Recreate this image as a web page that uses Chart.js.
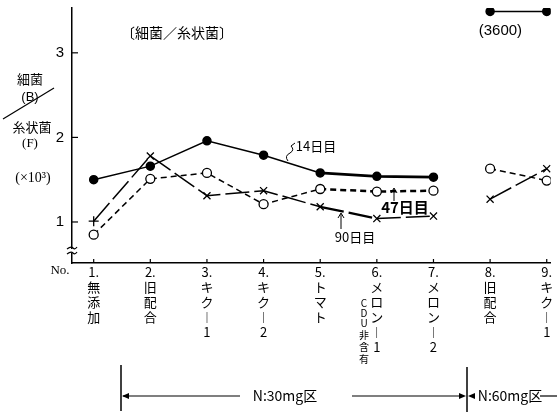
<!DOCTYPE html>
<html><head><meta charset="utf-8">
<script src="https://cdn.jsdelivr.net/npm/chart.js@4/dist/chart.umd.min.js"></script>
<style>html,body{margin:0;padding:0;background:#fff}#wrap{width:557px;height:416px}</style>
</head><body><div id="wrap"><canvas id="c" width="557" height="416"></canvas></div>
<script>
// ---- data ----
const sampleNos = [1, 2, 3, 4, 5, 6, 7, 8, 9];
const tickLabels = [
  ["1.", "無", "添", "加"],
  ["2.", "旧", "配", "合"],
  ["3.", "キ", "ク", "︱", "1"],
  ["4.", "キ", "ク", "︱", "2"],
  ["5.", "ト", "マ", "ト"],
  ["6.", "メ", "ロ", "ン", "︱", "1"],
  ["7.", "メ", "ロ", "ン", "︱", "2"],
  ["8.", "旧", "配", "合"],
  ["9.", "キ", "ク", "︱", "1"]
];
const seriesNames = ["14日目", "47日目", "90日目"];
const day14 = [1.50, 1.66, 1.96, 1.79, 1.58, 1.54, 1.53, 3.49, 3.49];
const day47 = [0.85, 1.51, 1.58, 1.21, 1.39, 1.36, 1.37, 1.63, 1.49];
const day90 = [1.01, 1.78, 1.31, 1.37, 1.18, 1.04, 1.07, 1.27, 1.63];
const yTickValues = [1, 2, 3];
const offScaleLabel = "(3600)";
const groupBreakIndex = 6; // no line between No.7 and No.8

const JP = "'Noto Sans CJK JP', sans-serif";
const SERIF = "'Liberation Serif', serif";
const SANS = "'Liberation Sans', sans-serif";

const pts = arr => arr.map((v, i) => ({ x: sampleNos[i], y: v }));
const segColor = c => ctx => ctx.p0DataIndex === groupBreakIndex ? 'rgba(0,0,0,0)' : c;

const annot = {
  id: 'annot',
  afterDraw(chart) {
    const { ctx, chartArea: a, scales: { x, y } } = chart;
    ctx.save();
    ctx.strokeStyle = '#000'; ctx.fillStyle = '#000'; ctx.lineWidth = 1.2;
    const line = (x1, y1, x2, y2, w) => { ctx.lineWidth = w || 1.2; ctx.beginPath(); ctx.moveTo(x1, y1); ctx.lineTo(x2, y2); ctx.stroke(); };
    const txt = (s, px, py, font, align) => { ctx.font = font; ctx.textAlign = align || 'center'; ctx.textBaseline = 'middle'; ctx.fillText(s, px, py); };
    const head = (px, py, dir) => {
      ctx.beginPath();
      if (dir === 'l') { ctx.moveTo(px, py); ctx.lineTo(px + 7, py - 3); ctx.lineTo(px + 7, py + 3); }
      if (dir === 'r') { ctx.moveTo(px, py); ctx.lineTo(px - 7, py - 3); ctx.lineTo(px - 7, py + 3); }
      if (dir === 'u') { ctx.moveTo(px - 3, py + 5); ctx.lineTo(px, py); ctx.lineTo(px + 3, py + 5); ctx.lineWidth = 1; ctx.stroke(); return; }
      ctx.closePath(); ctx.fill();
    };
    // inner tick marks
    yTickValues.forEach(v => { const py = y.getPixelForValue(v); line(a.left, py, a.left + 6, py, 1.2); });
    sampleNos.forEach(v => { const px = x.getPixelForValue(v); line(px, a.bottom, px, a.bottom - 4, 1.2); });
    // axis break
    ctx.fillStyle = '#fff'; ctx.fillRect(a.left - 3, 249, 6, 4); ctx.fillStyle = '#000';
    ctx.lineWidth = 1.2;
    [248, 253].forEach(yy => { ctx.beginPath(); ctx.moveTo(a.left - 5, yy + 1); ctx.quadraticCurveTo(a.left - 1, yy - 2, a.left + 1, yy); ctx.quadraticCurveTo(a.left + 3, yy + 2, a.left + 5, yy - 1); ctx.stroke(); });
    // left labels
    txt('細菌', 30, 79, '13px ' + JP);
    txt('(B)', 30, 97, '13px ' + SANS);
    line(3, 119, 54, 88, 1.2);
    txt('糸状菌', 32, 127, '13px ' + JP);
    txt('(F)', 30, 144, '13px ' + SERIF);
    txt('(×10³)', 33, 178, '14px ' + SERIF);
    txt('〔細菌／糸状菌〕', 177, 33, '14px ' + JP);
    txt('No.', 60, 271, '13px ' + SERIF);
    // off-scale label
    txt(offScaleLabel, (x.getPixelForValue(8) + x.getPixelForValue(9)) / 2 - 18, 31, '15px ' + SANS);
    // series labels
    txt(seriesNames[0], 316, 146, '13px ' + JP);
    ctx.lineWidth = 1; ctx.beginPath(); ctx.moveTo(288, 161); ctx.quadraticCurveTo(284, 156, 290, 153); ctx.quadraticCurveTo(295, 150, 291, 146); ctx.lineTo(295, 143); ctx.stroke();
    txt(seriesNames[1], 405, 207, 'bold 15px ' + JP);
    line(394, 201, 394, 189, 1); head(394, 188, 'u');
    txt(seriesNames[2], 355, 237, '13px ' + JP);
    line(341, 229, 341, 214, 1); head(341, 213, 'u');
    // CDU note
    const cdu = ['C', 'D', 'U', '非', '含', '有'];
    const cy = [303, 313, 323, 335, 347, 359];
    cdu.forEach((c, i) => txt(c, 364, cy[i], '10px ' + JP));
    // bottom brackets
    line(121, 365, 121, 411, 1.5);
    line(123, 396, 240, 396, 1.2); head(122, 396, 'l');
    txt('N:30mg区', 285, 396, '14px ' + JP);
    line(352, 396, 460, 396, 1.2); head(466, 396, 'r');
    line(467, 367, 467, 412, 1.5); head(468, 396, 'l');
    txt('N:60mg区', 510, 396, '14px ' + JP);
    line(540, 396, 557, 396, 1.2);
    ctx.restore();
  }
};

new Chart(document.getElementById('c'), {
  type: 'line',
  data: {
    datasets: [
      {
        label: seriesNames[0], data: pts(day14),
        borderColor: '#000', backgroundColor: '#000', borderWidth: 1.5,
        pointStyle: 'circle', pointRadius: 4, pointBackgroundColor: '#000', pointBorderColor: '#000',
        segment: { borderColor: segColor('#000'), borderWidth: c => (c.p0DataIndex === 4 || c.p0DataIndex === 5) ? 2.8 : 1.5 }
      },
      {
        label: seriesNames[1], data: pts(day47),
        borderColor: '#000', borderWidth: 1.5, borderDash: [6, 4],
        pointStyle: 'circle', pointRadius: 4.5, pointBackgroundColor: '#fff', pointBorderColor: '#000', pointBorderWidth: 1.3,
        segment: { borderColor: segColor('#000'), borderWidth: c => (c.p0DataIndex === 4 || c.p0DataIndex === 5) ? 2.5 : 1.5 }
      },
      {
        label: seriesNames[2], data: pts(day90),
        borderColor: '#000', borderWidth: 1.5, borderDash: [24, 5],
        pointStyle: ['cross', 'crossRot', 'crossRot', 'crossRot', 'crossRot', 'crossRot', 'crossRot', 'crossRot', 'crossRot'],
        pointRadius: 5, pointBorderColor: '#000', pointBorderWidth: 1.3,
        segment: { borderColor: segColor('#000'), borderWidth: c => (c.p0DataIndex === 4) ? 2.3 : 1.5 }
      }
    ]
  },
  options: {
    responsive: false, animation: false, devicePixelRatio: 1,
    layout: { padding: { top: 8, left: 0, right: 0, bottom: 0 } },
    plugins: { legend: { display: false }, tooltip: { enabled: false } },
    elements: { line: { tension: 0 } },
    scales: {
      x: {
        type: 'linear', min: 0.617, max: 9.07,
        afterBuildTicks: s => { s.ticks = sampleNos.map(v => ({ value: v })); },
        afterFit: s => { s.height = 153; s.paddingLeft = 0; s.paddingRight = 0; s.paddingTop = 0; s.paddingBottom = 0; },
        grid: { display: false, drawTicks: false },
        border: { display: true, color: '#000', width: 1.5 },
        ticks: {
          autoSkip: false, maxRotation: 0, minRotation: 0, padding: 2, color: '#000',
          font: { family: JP, size: 13, lineHeight: '15px' },
          callback: v => tickLabels[sampleNos.indexOf(v)]
        }
      },
      y: {
        min: 0.515, max: 3.53,
        afterBuildTicks: s => { s.ticks = yTickValues.map(v => ({ value: v })); },
        afterFit: s => { s.width = 72; s.paddingTop = 0; s.paddingBottom = 0; s.paddingLeft = 0; s.paddingRight = 0; },
        grid: { display: false, drawTicks: false },
        border: { display: true, color: '#000', width: 1.5 },
        ticks: { padding: 8, color: '#000', font: { family: SANS, size: 15 }, callback: v => String(v) }
      }
    }
  },
  plugins: [annot]
});
</script></body></html>
